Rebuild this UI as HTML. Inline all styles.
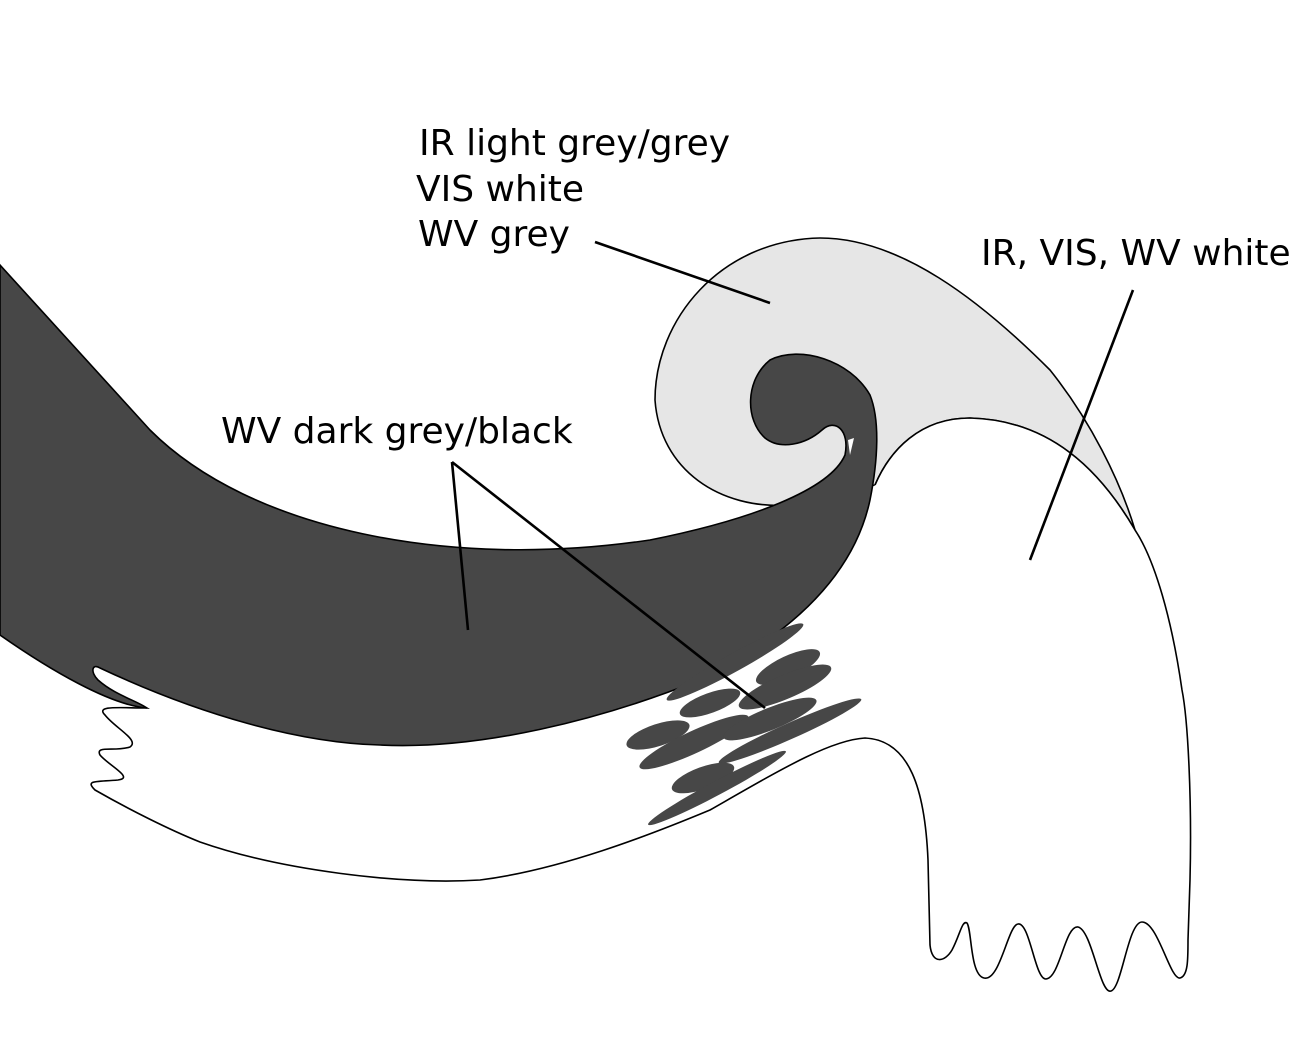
<!DOCTYPE html>
<html><head><meta charset="utf-8"><style>
html,body{margin:0;padding:0;background:#fff;width:1300px;height:1048px;overflow:hidden}
text{font-family:"DejaVu Sans","Liberation Sans",sans-serif;font-size:36px;fill:#000}
</style></head><body>
<svg width="1300" height="1048" viewBox="0 0 1300 1048" xmlns="http://www.w3.org/2000/svg">
<path d="M790,505 C720,510 660,470 655,400 C655,320 720,240 820,238 C900,238 980,300 1050,370 C1090,420 1120,480 1135,530 C1100,470 1050,420 970,418 C920,418 890,450 875,485 Z" fill="#e6e6e6" stroke="#000" stroke-width="1.6"/>
<path d="M147,708 C120,708 95,705 105,715 C115,728 140,740 130,747 C115,752 95,745 100,755 C108,765 135,778 118,780 C95,782 85,780 95,790 C130,810 170,830 200,842 C280,870 400,885 480,880 C560,870 650,835 710,810 C780,770 830,740 865,738 C910,740 925,790 928,860 L930,945 C932,965 945,962 952,950 C960,935 962,920 967,923 C972,930 970,975 984,978 C1000,982 1008,925 1018,924 C1030,922 1035,980 1046,979 C1060,978 1065,925 1078,927 C1092,930 1100,995 1111,991 C1122,988 1128,922 1142,922 C1158,922 1170,980 1180,978 C1188,976 1188,960 1188,940 L1190,880 C1192,800 1188,720 1182,690 C1172,620 1155,560 1135,530 C1100,470 1050,420 970,418 C920,418 890,450 875,485 L850,540 L600,690 L300,720 L170,712 Z" fill="#fff" stroke="none"/>
<path d="M147,708 C120,708 95,705 105,715 C115,728 140,740 130,747 C115,752 95,745 100,755 C108,765 135,778 118,780 C95,782 85,780 95,790 C130,810 170,830 200,842 C280,870 400,885 480,880 C560,870 650,835 710,810 C780,770 830,740 865,738 C910,740 925,790 928,860 L930,945 C932,965 945,962 952,950 C960,935 962,920 967,923 C972,930 970,975 984,978 C1000,982 1008,925 1018,924 C1030,922 1035,980 1046,979 C1060,978 1065,925 1078,927 C1092,930 1100,995 1111,991 C1122,988 1128,922 1142,922 C1158,922 1170,980 1180,978 C1188,976 1188,960 1188,940 L1190,880 C1192,800 1188,720 1182,690 C1172,620 1155,560 1135,530 C1100,470 1050,420 970,418 C920,418 890,450 875,485" fill="none" stroke="#000" stroke-width="1.6"/>
<path d="M0,265 L150,430 C250,530 450,570 650,540 C750,520 830,490 845,455 C850,430 835,418 822,430 C805,445 780,450 765,438 C745,420 745,380 770,360 C800,345 850,360 870,395 C880,420 878,460 870,500 C855,570 800,630 700,680 C600,720 480,750 380,745 C300,743 200,715 100,668 C92,663 90,672 98,680 C115,695 135,700 147,708 C110,705 50,670 0,635 Z" fill="#474747" stroke="#000" stroke-width="1.6"/>
<path d="M848,440 L854,438 L850,455 Z" fill="#fff"/>
<g fill="#474747">
<ellipse cx="735" cy="662" rx="78" ry="9" transform="rotate(-29 735 662)"/>
<ellipse cx="788" cy="667" rx="35" ry="11" transform="rotate(-25 788 667)"/>
<ellipse cx="785" cy="687" rx="50" ry="12" transform="rotate(-23 785 687)"/>
<ellipse cx="710" cy="703" rx="32" ry="10" transform="rotate(-20 710 703)"/>
<ellipse cx="658" cy="735" rx="33" ry="11" transform="rotate(-18 658 735)"/>
<ellipse cx="694" cy="742" rx="60" ry="11" transform="rotate(-25 694 742)"/>
<ellipse cx="770" cy="719" rx="50" ry="11" transform="rotate(-22 770 719)"/>
<ellipse cx="790" cy="731" rx="78" ry="8" transform="rotate(-24 790 731)"/>
<ellipse cx="703" cy="778" rx="33" ry="11" transform="rotate(-20 703 778)"/>
<ellipse cx="717" cy="788" rx="78" ry="7" transform="rotate(-28 717 788)"/>
</g>
<g stroke="#000" stroke-width="2.6" fill="none">
<line x1="595" y1="242" x2="770" y2="303"/>
<line x1="1133" y1="290" x2="1030" y2="560"/>
<line x1="452" y1="462" x2="468" y2="630"/>
<line x1="452" y1="462" x2="765" y2="708"/>
</g>
<text x="419" y="155">IR light grey/grey</text>
<text x="416" y="201">VIS white</text>
<text x="418" y="246">WV grey</text>
<text x="981" y="265">IR, VIS, WV white</text>
<text x="221" y="443">WV dark grey/black</text>
</svg>
</body></html>
